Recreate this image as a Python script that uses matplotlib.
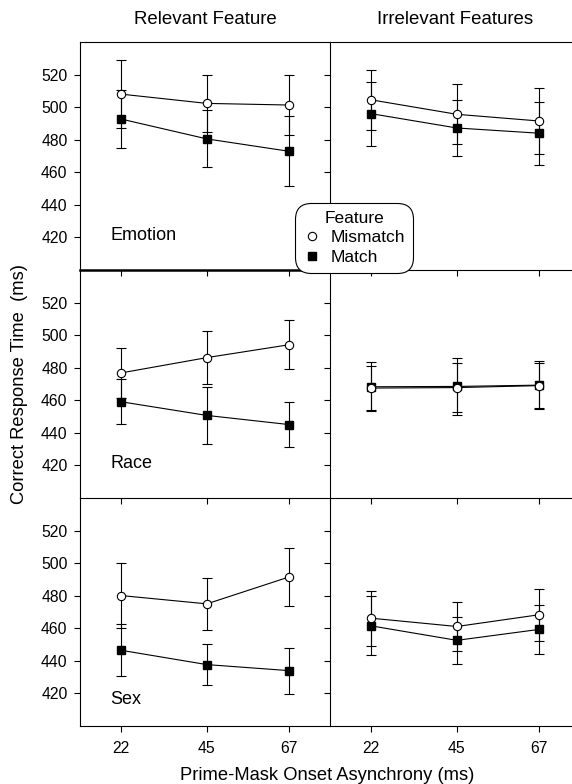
import matplotlib.pyplot as plt
from matplotlib.lines import Line2D

plt.rcParams["font.family"] = ["Liberation Sans", "DejaVu Sans"]

# prime-mask SOA (ms)
soa = [22, 45, 67]
feature_names = ["Emotion", "Race", "Sex"]

# rows: Emotion, Race, Sex
rel_mismatch = [[508.0, 502.3, 501.3], [476.8, 486.2, 494.1], [480.1, 475.0, 491.5]]
rel_mismatch_err = [[21.0, 17.5, 18.5], [15.3, 16.3, 15.1], [19.9, 15.8, 17.9]]
rel_match = [[492.7, 480.5, 472.9], [459.1, 450.7, 445.1], [446.5, 437.7, 434.0]]
rel_match_err = [[17.9, 17.5, 21.4], [13.7, 17.7, 14.0], [16.0, 12.6, 14.1]]

irr_mismatch = [[504.5, 495.6, 491.5], [467.5, 467.8, 469.0], [466.2, 461.1, 468.3]]
irr_mismatch_err = [[18.6, 18.5, 20.4], [13.4, 15.2, 13.9], [16.9, 14.8, 15.9]]
irr_match = [[496.0, 487.2, 484.0], [468.3, 468.5, 469.3], [461.5, 452.6, 459.3]]
irr_match_err = [[19.6, 17.3, 19.4], [15.0, 17.7, 14.7], [18.1, 14.4, 15.2]]

W, H = 572, 784
fig = plt.figure(figsize=(W / 100, H / 100), dpi=100)

left_px = [80, 330]
panel_w = 250
top0, panel_h = 42, 228
label_y = [0.15, 0.15, 0.115]


def draw_panel(ax, mism, mism_err, mat, mat_err):
    ax.errorbar(soa, mat, yerr=mat_err, color="black", lw=0.8, elinewidth=0.8,
                capsize=3.5, capthick=0.8, marker="s", ms=6, mfc="black", mec="black", zorder=2)
    ax.errorbar(soa, mism, yerr=mism_err, color="black", lw=0.8, elinewidth=0.8,
                capsize=3.5, capthick=0.8, marker="o", ms=6, mfc="white", mec="black",
                mew=0.8, zorder=3)


for r in range(3):
    for c in range(2):
        bottom = 1 - (top0 + panel_h * (r + 1)) / H
        ax = fig.add_axes([left_px[c] / W, bottom, panel_w / W, panel_h / H])
        ax.patch.set_visible(False)
        if c == 0:
            draw_panel(ax, rel_mismatch[r], rel_mismatch_err[r], rel_match[r], rel_match_err[r])
        else:
            draw_panel(ax, irr_mismatch[r], irr_mismatch_err[r], irr_match[r], irr_match_err[r])
        ax.set_xlim(11, 78)
        ax.set_ylim(400, 540)
        ax.set_xticks(soa)
        ax.set_yticks([420, 440, 460, 480, 500, 520])
        ax.tick_params(direction="out", length=4, width=0.8, labelsize=11.3)
        ax.tick_params(axis="y", pad=5)
        ax.tick_params(axis="x", pad=7)
        ax.spines["right"].set_visible(False)
        for s in ax.spines.values():
            s.set_linewidth(0.8)
        if r > 0:
            ax.spines["top"].set_visible(False)
        if r == 0 and c == 0:
            ax.spines["bottom"].set_linewidth(1.8)
        if c == 1:
            ax.tick_params(labelleft=False)
        if r < 2:
            ax.tick_params(labelbottom=False)
        if c == 0:
            ax.text(0.12, label_y[r], feature_names[r], transform=ax.transAxes, fontsize=13,
                    ha="left", va="center")

fig.text(205 / W, 1 - 19 / H, "Relevant Feature", ha="center", va="center", fontsize=13.4)
fig.text(455 / W, 1 - 19 / H, "Irrelevant Features", ha="center", va="center", fontsize=13.4)
fig.text(327 / W, 1 - 775 / H, "Prime-Mask Onset Asynchrony (ms)", ha="center", va="center",
         fontsize=13.2)
fig.text(20 / W, 1 - 384 / H, "Correct Response Time  (ms)", ha="center", va="center",
         rotation=90, fontsize=13.2)

handles = [
    Line2D([], [], ls="none", marker="o", ms=6, mfc="white", mec="black", mew=0.8),
    Line2D([], [], ls="none", marker="s", ms=6, mfc="black", mec="black"),
]
leg = fig.legend(handles, ["Mismatch", "Match"], title="Feature", loc="center",
                 bbox_to_anchor=(354 / W, 1 - 238 / H), fontsize=12.5, title_fontsize=12.5,
                 frameon=True, fancybox=True, framealpha=1, edgecolor="black",
                 handlelength=1.0, handletextpad=0.6, borderpad=0.45, labelspacing=0.25)
leg.get_frame().set_linewidth(0.8)
leg.get_frame().set_boxstyle("round", pad=0.0, rounding_size=0.9)

fig.savefig("out.png", dpi=100)
